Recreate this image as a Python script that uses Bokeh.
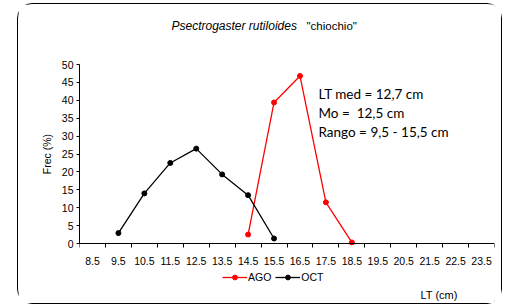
from bokeh.plotting import figure
from bokeh.layouts import column
from bokeh.models import FixedTicker, Legend, LegendItem, Label
from bokeh.embed import file_html
from bokeh.resources import INLINE

# ---- data ----
size_classes = [8.5, 9.5, 10.5, 11.5, 12.5, 13.5, 14.5, 15.5, 16.5, 17.5,
                18.5, 19.5, 20.5, 21.5, 22.5, 23.5]
class_bounds = [8 + i for i in range(17)]
y_ticks = [0, 5, 10, 15, 20, 25, 30, 35, 40, 45, 50]

ago_x = [14.5, 15.5, 16.5, 17.5, 18.5]
ago_y = [2.5, 39.4, 46.8, 11.5, 0.3]
oct_x = [9.5, 10.5, 11.5, 12.5, 13.5, 14.5, 15.5]
oct_y = [2.9, 14.0, 22.5, 26.5, 19.3, 13.5, 1.4]

FONT = "Liberation Sans"

# layout: the frame spans the whole canvas height; the axes are pinned at 0
H = 299                 # canvas height
TOP_PX = 60             # pixels above the value 50
PLOT_PX = 179           # pixels for 0..50
ppu = PLOT_PX / 50.0
y_end = 50 + TOP_PX / ppu
y_start = -(H - TOP_PX - PLOT_PX) / ppu

p = figure(width=483, height=H, x_range=(8, 24), y_range=(y_start, y_end),
           output_backend="svg", toolbar_location=None,
           min_border_left=61, min_border_right=7,
           min_border_top=0, min_border_bottom=0)
p.outline_line_color = None
p.xgrid.visible = False
p.ygrid.visible = False
p.background_fill_color = "white"
p.border_fill_color = "white"

# x axis: labels at class centres, ticks at class boundaries
xa = p.xaxis[0]
xa.fixed_location = 0
xa.ticker = FixedTicker(ticks=size_classes, minor_ticks=class_bounds)
xa.major_label_overrides = {v: str(v) for v in size_classes}
xa.major_tick_in = 0
xa.major_tick_out = 0
xa.minor_tick_in = 0
xa.minor_tick_out = 4
xa.minor_tick_line_color = "black"
xa.major_label_standoff = 9
xa.major_label_text_font = FONT
xa.major_label_text_font_size = "10.5px"
xa.major_label_text_color = "black"
xa.axis_line_color = "black"

ya = p.yaxis[0]
ya.bounds = (0, 50)
ya.ticker = FixedTicker(ticks=y_ticks)
ya.major_tick_in = 0
ya.major_tick_out = 3
ya.minor_tick_out = 0
ya.minor_tick_in = 0
ya.major_label_standoff = 3
ya.major_label_text_font = FONT
ya.major_label_text_font_size = "10.5px"
ya.major_label_text_color = "black"
ya.axis_label = "Frec (%)"
ya.axis_label_text_font = FONT
ya.axis_label_text_font_size = "10.5px"
ya.axis_label_text_font_style = "normal"
ya.axis_label_text_color = "black"
ya.axis_label_standoff = 6
ya.axis_line_color = "black"

ago_l = p.line(ago_x, ago_y, line_color="#FF0000", line_width=1.3)
ago_s = p.scatter(ago_x, ago_y, size=5, fill_color="#FF0000", line_color="#FF0000")
oct_l = p.line(oct_x, oct_y, line_color="black", line_width=1.3)
oct_s = p.scatter(oct_x, oct_y, size=5, fill_color="black", line_color="black")

legend = Legend(items=[LegendItem(label="AGO", renderers=[ago_l, ago_s]),
                       LegendItem(label="OCT", renderers=[oct_l, oct_s])],
                location=(143, 20), orientation="horizontal",
                padding=0, margin=0, spacing=4, label_standoff=1,
                glyph_width=25, glyph_height=12, label_height=12,
                border_line_color=None, background_fill_alpha=0,
                label_text_font=FONT, label_text_font_size="10.5px",
                label_text_color="black")
p.add_layout(legend, "center")

def lab(text, x, y, font=FONT, size="11px", style="normal"):
    p.add_layout(Label(x=x, y=y, x_units="screen", y_units="screen", text=text,
                       text_font=font, text_font_size=size, text_font_style=style,
                       text_color="black", text_baseline="middle", text_align="left"))

lab("Psectrogaster rutiloides", 92, 278, size="12px", style="italic")
lab('"chiochio"', 227, 278, size="11.5px")
lab("LT med = 12,7 cm", 239, 210, font="Lato", size="13.5px")
lab("Mo =\u00a0 12,5 cm", 239, 191, font="Lato", size="13.5px")
lab("Rango = 9,5 - 15,5 cm", 239, 172, font="Lato", size="13.5px")
lab("LT (cm)", 341, 9)

lay = column(p, margin=(3, 0, 0, 17),
             styles={"border": "1.3px solid black", "border-radius": "15px"})

open("out.html", "w").write(file_html(lay, INLINE))
